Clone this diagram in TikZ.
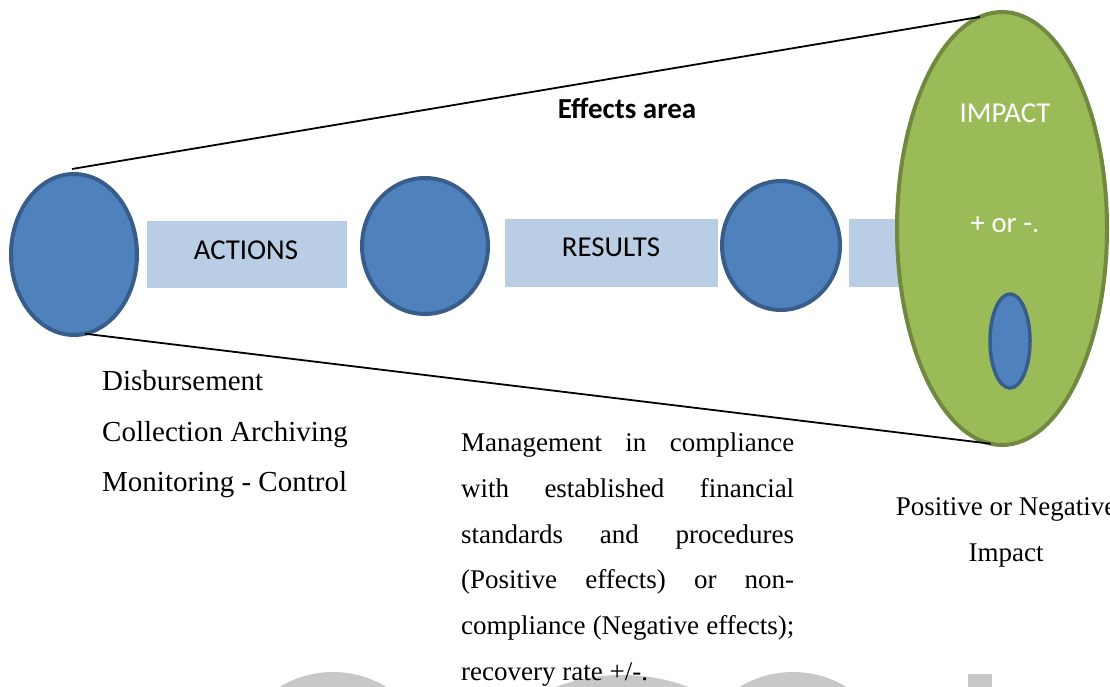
\documentclass[tikz,border=0pt]{standalone}
\usepackage{fontspec}
\setmainfont{Liberation Serif}
\newfontfamily\calib{Carlito}
\usetikzlibrary{shapes.geometric,calc}
\definecolor{bluefill}{HTML}{4F81BD}
\definecolor{blueline}{HTML}{385D8A}
\definecolor{bandfill}{HTML}{B9CDE5}
\definecolor{greenfill}{HTML}{9BBB59}
\definecolor{greenline}{HTML}{71893F}
\definecolor{markgray}{HTML}{C8C8C8}
\begin{document}
\begin{tikzpicture}[x=1pt,y=-1pt,
  bubble/.style={ellipse, draw=blueline, fill=bluefill, line width=4pt, inner sep=0pt, outer sep=0pt},
  band/.style={rectangle, fill=bandfill, inner sep=0pt, outer sep=0pt},
  bandtext/.style={inner sep=0pt, font=\calib\fontsize{28.8}{32}\selectfont},
  bodytext/.style={inner sep=0pt, align=left},
  edge/.style={line width=1.8pt, black}
]
\clip (0,0) rectangle (1110,687);

% faint shapes along the bottom edge
\fill[markgray] (333,775) circle[radius=103];
\fill[markgray] (622,865) circle[radius=190];
\fill[markgray] (793,775) circle[radius=103];
\fill[markgray] (968,674) rectangle (992,690);

% chain of stages
\node[bubble, minimum width=126pt, minimum height=161pt] (c1) at (74,254.5) {};
\node[band, minimum width=200pt, minimum height=67pt] (a1) at (247,254.5) {};
\node[bandtext] (ta1) at (246,250) {ACTIONS};
\node[bubble, minimum width=126pt, minimum height=136pt] (c2) at (425,246) {};
\node[band, minimum width=213pt, minimum height=68pt] (r1) at (611.5,253) {};
\node[bandtext] (tr1) at (611,247.5) {RESULTS};
\node[bubble, minimum width=118pt, minimum height=129pt] (c3) at (781,245.5) {};
\node[band, minimum width=70pt, minimum height=68pt] (r3) at (884,253) {};

% impact area
\node[ellipse, draw=greenline, fill=greenfill, line width=4pt, inner sep=0pt, outer sep=0pt,
      minimum width=210pt, minimum height=433pt] (imp) at (1002,228.5) {};
\node[bubble, line width=3.5pt, minimum width=40pt, minimum height=94pt] (small) at (1010,341) {};
\node[bandtext, text=white] (timp) at (1005,113) {IMPACT};
\node[bandtext, text=white] (tpm) at (1005,225) {+ or -.};

% funnel of effects
\draw[edge] ([shift={(-2,-5)}]c1.north) -- (imp.96);
\draw[edge] (c1.278) -- (imp.267.5);
\node[bandtext, font=\calib\bfseries\fontsize{29}{32}\selectfont] (area) at (627,108) {Effects area};

% descriptions
\node[bodytext, anchor=north west, font=\fontsize{29}{50.5}\selectfont] (acts) at (102,370.5)
  {Disbursement\\Collection Archiving\\Monitoring - Control};
\node[bodytext, anchor=north west, font=\fontsize{27}{45.8}\selectfont] (res) at (461,432.6)
  {\hbox to 333pt{Management\hfill in\hfill compliance}\\
   \hbox to 333pt{with\hfill established\hfill financial}\\
   \hbox to 333pt{standards\hfill and\hfill procedures}\\
   \hbox to 333pt{(Positive\hfill effects)\hfill or\hfill non-}\\
   \hbox to 333pt{compliance\hfill (Negative\hfill effects);}\\
   recovery rate +/-.};
\node[inner sep=0pt, align=center, anchor=north, font=\fontsize{27}{45.8}\selectfont] (pn) at (1006,497.6)
  {Positive or Negative\\Impact};
\end{tikzpicture}
\end{document}
